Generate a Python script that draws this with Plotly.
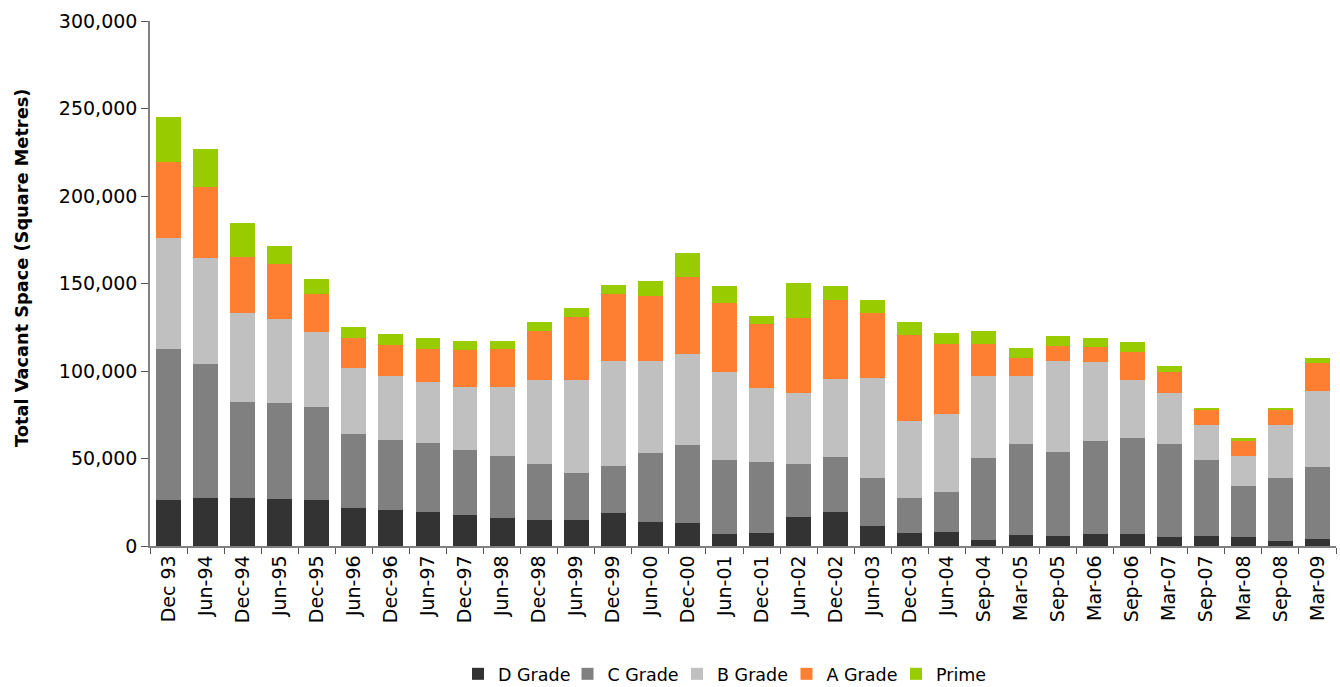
import plotly.graph_objects as go

categories = ["Dec 93", "Jun-94", "Dec-94", "Jun-95", "Dec-95", "Jun-96", "Dec-96", "Jun-97",
              "Dec-97", "Jun-98", "Dec-98", "Jun-99", "Dec-99", "Jun-00", "Dec-00", "Jun-01",
              "Dec-01", "Jun-02", "Dec-02", "Jun-03", "Dec-03", "Jun-04", "Sep-04", "Mar-05",
              "Sep-05", "Mar-06", "Sep-06", "Mar-07", "Sep-07", "Mar-08", "Sep-08", "Mar-09"]

d_grade = [26300, 27400, 27400, 26900, 26300, 21700, 20600, 19400,
           17700, 16000, 14900, 14900, 18900, 13700, 13100, 6900,
           7400, 16600, 19400, 11400, 7400, 8000, 3400, 6300,
           5700, 6900, 6900, 5100, 5700, 5100, 2900, 4000]
c_grade = [86000, 76600, 54900, 54800, 53100, 42300, 40000, 39500,
           37200, 35400, 32000, 26800, 26800, 39400, 44600, 42200,
           40600, 30300, 31500, 27500, 20000, 22900, 46900, 52000,
           48000, 53100, 54800, 53200, 43400, 29200, 36000, 41100]
b_grade = [63500, 60600, 50800, 48000, 42900, 37700, 36500, 34800,
           36000, 39500, 48000, 53200, 60000, 52600, 52000, 50300,
           42300, 40500, 44500, 57100, 44000, 44500, 46800, 38800,
           52000, 45100, 33200, 29100, 20000, 17100, 30200, 43500]
a_grade = [43600, 40400, 32000, 31600, 21900, 17300, 17800, 18900,
           21300, 21700, 28000, 36000, 38500, 37300, 44000, 39500,
           36600, 43100, 45300, 37100, 49200, 40200, 18500, 10500,
           8800, 8600, 16100, 12200, 9000, 8600, 8600, 16000]
prime = [25600, 21900, 19500, 10100, 8400, 6100, 6200, 6300,
         4900, 4500, 5100, 5100, 4900, 8400, 13700, 9700,
         4500, 19800, 7900, 7500, 7400, 6100, 7300, 5500,
         5500, 5200, 5600, 3300, 800, 1700, 1200, 2800]

series = [
    ("D Grade", d_grade, "#333333"),
    ("C Grade", c_grade, "#808080"),
    ("B Grade", b_grade, "#C0C0C0"),
    ("A Grade", a_grade, "#FF7F32"),
    ("Prime", prime, "#99CC00"),
]

fig = go.Figure()
for name, vals, color in series:
    fig.add_trace(go.Bar(x=categories, y=vals, name=name,
                         marker=dict(color=color, line=dict(width=0))))

font_family = "DejaVu Sans"
fig.update_layout(
    barmode="stack",
    bargap=0.33,
    width=1340, height=687,
    margin=dict(l=150, r=4, t=21, b=141, autoexpand=False),
    paper_bgcolor="white", plot_bgcolor="white",
    font=dict(family=font_family, size=17, color="#000000"),
    showlegend=True,
    legend=dict(orientation="h", x=0.2597, xanchor="left",
                yref="container", y=0.019, yanchor="middle",
                entrywidth=64.5, entrywidthmode="pixels",
                font=dict(size=17.5), traceorder="normal"),
    annotations=[dict(
        text="<b>Total Vacant Space (Square Metres)</b>",
        xref="paper", yref="paper", x=-0.108, y=0.5295,
        xanchor="center", yanchor="middle", textangle=-90,
        showarrow=False, font=dict(size=17.75, color="#000000"),
    )],
)
fig.update_yaxes(
    range=[0, 300000], dtick=50000, tickformat=",d",
    automargin=False,
    showgrid=False, zeroline=False,
    showline=True, linecolor="#808080", linewidth=1.5,
    ticks="outside", ticklen=7, tickcolor="#555555",
    tickfont=dict(size=19),
)
fig.update_xaxes(
    type="category", automargin=False,
    showgrid=False, showline=True, linecolor="#808080", linewidth=1.5,
    ticks="outside", ticklen=6, tickcolor="#555555", tickson="boundaries",
    tickangle=-90, tickfont=dict(size=19),
)

fig.write_html("out.html")
